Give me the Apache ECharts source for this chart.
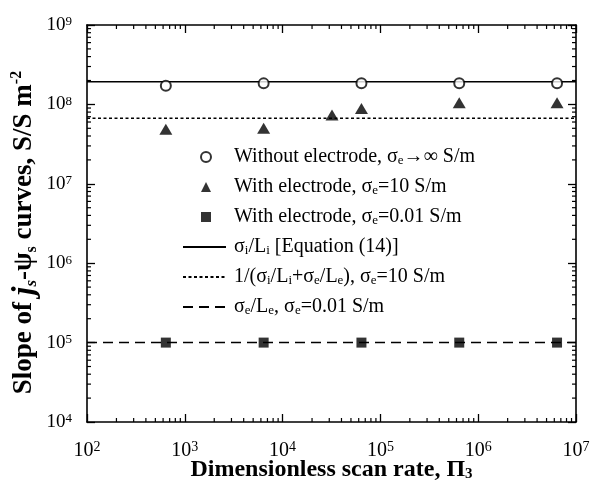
<!DOCTYPE html>
<html>
<head>
<meta charset="utf-8">
<script src="https://cdn.jsdelivr.net/npm/echarts@6/dist/echarts.min.js"></script>
<style>html,body{margin:0;padding:0;background:#fff}#c{width:590px;height:484px}</style>
</head>
<body>
<div id="c"></div>
<script>
// ---- data ----
const xPoints = [640, 6400, 64000, 640000, 6400000];
const withoutElectrode = [1.72e8, 1.84e8, 1.85e8, 1.85e8, 1.85e8];
const triX = [640, 6400, 32000, 64000, 640000, 6400000];
const withElectrode10 = [4.86e7, 5.0e7, 7.35e7, 8.9e7, 1.05e8, 1.05e8];
const withElectrode001 = [1e5, 1e5, 1e5, 1e5, 1e5];
const lineX = [1e2, 1e7];
const eq14Value = 1.93e8;
const series10Value = 6.68e7;
const series001Value = 1e5;
const xTickExponents = [2, 3, 4, 5, 6, 7];
const yTickExponents = [4, 5, 6, 7, 8, 9];

const names = [
  'Without electrode, σ{sub|e}→∞ S/m',
  'With electrode, σ{sub|e}=10 S/m',
  'With electrode, σ{sub|e}=0.01 S/m',
  'σ{sub|i}/L{sub|i} [Equation (14)]',
  '1/(σ{sub|i}/L{sub|i}+σ{sub|e}/L{sub|e}), σ{sub|e}=10 S/m',
  'σ{sub|e}/L{sub|e}, σ{sub|e}=0.01 S/m'
];

const FONT = 'Liberation Serif';
const minorTicks = [];
for (let e = xTickExponents[0]; e < xTickExponents[xTickExponents.length - 1]; e++)
  for (let m = 2; m <= 9; m++) minorTicks.push([m * Math.pow(10, e), 1e4, 0]);
for (let e = yTickExponents[0]; e < yTickExponents[yTickExponents.length - 1]; e++)
  for (let m = 2; m <= 9; m++) minorTicks.push([1e2, m * Math.pow(10, e), 1]);

const supLabel = v => '10{sup|' + Math.round(Math.log10(v)) + '}';
const axisCommon = {
  type: 'log', logBase: 10, splitNumber: 5, nameMoveOverlap: false,
  axisLine: { lineStyle: { color: '#000', width: 1.6 } },
  axisTick: { inside: true, length: 8, lineStyle: { color: '#000', width: 1.3 } },
  splitLine: { show: false },
  minorTick: { show: false }
};
const legendText = (pad) => ({
  fontSize: 20, fontFamily: FONT, color: '#000', lineHeight: 20, padding: [0, 0, 0, pad],
  rich: { sub: { fontSize: 13, fontFamily: FONT, color: '#000', verticalAlign: 'bottom', lineHeight: 8 } }
});
const chart = echarts.init(document.getElementById('c'));
chart.setOption({
  animation: false,
  backgroundColor: '#fff',
  grid: { left: 87, right: 14, top: 25, bottom: 62, containLabel: false, outerBoundsMode: 'none' },
  xAxis: [
    Object.assign({}, axisCommon, {
      min: 1e2, max: 1e7, position: 'bottom',
      axisLabel: { formatter: supLabel, fontSize: 20, fontFamily: FONT, color: '#000', margin: 18, lineHeight: 22,
        rich: { sup: { fontSize: 14, fontFamily: FONT, color: '#000', verticalAlign: 'top', lineHeight: 10 } } },
      name: 'Dimensionless scan rate, Π{sub|3}', nameLocation: 'middle', nameGap: 36,
      nameTextStyle: { fontSize: 24, fontWeight: 'bold', fontFamily: FONT, color: '#000',
        rich: { sub: { fontSize: 15, fontWeight: 'bold', fontFamily: FONT, color: '#000', verticalAlign: 'bottom', lineHeight: 10 } } }
    }),
    Object.assign({}, axisCommon, { min: 1e2, max: 1e7, position: 'top', axisLabel: { show: false } })
  ],
  yAxis: [
    Object.assign({}, axisCommon, {
      min: 1e4, max: 1e9, position: 'left',
      axisLabel: { formatter: supLabel, fontSize: 19, fontFamily: FONT, color: '#000', margin: 15,
        rich: { sup: { fontSize: 13, fontFamily: FONT, color: '#000', verticalAlign: 'top', lineHeight: 10 } } },
      name: 'Slope of {bi|j}{bis|s}-ψ{sub|s} curves, S/S m{sup|-2}', nameLocation: 'middle', nameRotate: 90, nameGap: 47,
      nameTextStyle: { fontSize: 27, fontWeight: 'bold', fontFamily: FONT, color: '#000', padding: [0, 18, 0, 0],
        rich: {
          bi: { fontSize: 31, fontWeight: 'bold', fontStyle: 'italic', fontFamily: FONT, color: '#000' },
          bis: { fontSize: 17, fontWeight: 'bold', fontStyle: 'italic', fontFamily: FONT, color: '#000', verticalAlign: 'bottom', lineHeight: 10 },
          sub: { fontSize: 16, fontWeight: 'bold', fontFamily: FONT, color: '#000', verticalAlign: 'bottom', lineHeight: 10 },
          sup: { fontSize: 16, fontWeight: 'bold', fontFamily: FONT, color: '#000', verticalAlign: 'top', lineHeight: 10 }
        } }
    }),
    Object.assign({}, axisCommon, { min: 1e4, max: 1e9, position: 'right', axisLabel: { show: false } })
  ],
  legend: [
    {
      orient: 'vertical', left: 200, top: 147, padding: 0, itemWidth: 10, itemHeight: 10, itemGap: 10,
      textStyle: legendText(18),
      data: [
        { name: names[0], icon: 'emptyCircle', itemStyle: { borderWidth: 1 } },
        { name: names[1], icon: 'triangle' },
        { name: names[2], icon: 'rect' }
      ]
    },
    {
      orient: 'vertical', left: 182, top: 237, padding: 0, itemWidth: 43, itemHeight: 10, itemGap: 10,
      textStyle: legendText(3),
      data: [
        { name: names[3], itemStyle: { opacity: 0, borderWidth: 0 } },
        { name: names[4], itemStyle: { opacity: 0, borderWidth: 0 } },
        { name: names[5], itemStyle: { opacity: 0, borderWidth: 0 } }
      ]
    }
  ],
  series: [
    { name: names[0], type: 'scatter', data: xPoints.map((x, i) => [x, withoutElectrode[i]]),
      symbol: 'emptyCircle', symbolSize: 10, itemStyle: { color: '#000', borderColor: '#000', borderWidth: 1 }, z: 5 },
    { name: names[1], type: 'scatter', data: triX.map((x, i) => [x, withElectrode10[i]]),
      symbol: 'triangle', symbolSize: [13, 11], itemStyle: { color: '#000' }, z: 5 },
    { name: names[2], type: 'scatter', data: xPoints.map((x, i) => [x, withElectrode001[i]]),
      symbol: 'rect', symbolSize: 10, itemStyle: { color: '#000' }, z: 5 },
    { name: names[3], type: 'line', data: lineX.map(x => [x, eq14Value]), symbol: 'none',
      lineStyle: { color: '#000', width: 1.5, type: 'solid' }, itemStyle: { color: '#000' } },
    { name: names[4], type: 'line', data: lineX.map(x => [x, series10Value]), symbol: 'none',
      lineStyle: { color: '#000', width: 1.5, type: [3, 2.5] }, itemStyle: { color: '#000' } },
    { name: names[5], type: 'line', data: lineX.map(x => [x, series001Value]), symbol: 'none',
      lineStyle: { color: '#000', width: 1.5, type: [10, 6] }, itemStyle: { color: '#000' } },
    { type: 'custom', silent: true, data: minorTicks, z: 10,
      renderItem: function (params, api) {
        const cs = params.coordSys;
        const p = api.coord([api.value(0), api.value(1)]);
        const st = { stroke: '#000', lineWidth: 1.2 };
        if (api.value(2) === 0) {
          return { type: 'group', children: [
            { type: 'line', shape: { x1: p[0], y1: cs.y + cs.height, x2: p[0], y2: cs.y + cs.height - 4 }, style: st },
            { type: 'line', shape: { x1: p[0], y1: cs.y, x2: p[0], y2: cs.y + 4 }, style: st }
          ] };
        }
        return { type: 'group', children: [
          { type: 'line', shape: { x1: cs.x, y1: p[1], x2: cs.x + 4, y2: p[1] }, style: st },
          { type: 'line', shape: { x1: cs.x + cs.width, y1: p[1], x2: cs.x + cs.width - 4, y2: p[1] }, style: st }
        ] };
      }
    }
  ]
});
</script>
</body>
</html>
